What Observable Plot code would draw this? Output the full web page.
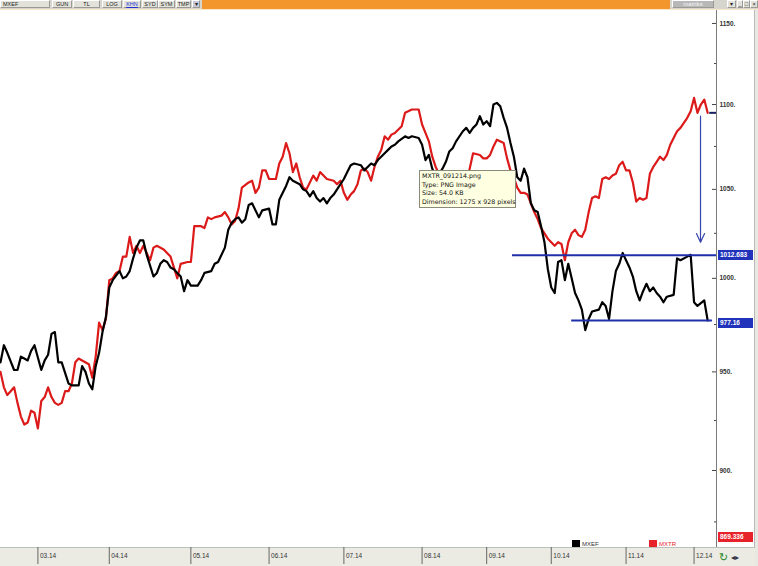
<!DOCTYPE html>
<html><head><meta charset="utf-8">
<script src="https://cdn.jsdelivr.net/npm/d3@7"></script>
<script src="https://cdn.jsdelivr.net/npm/@observablehq/plot@0.6"></script>
<style>
body{margin:0;background:#fff;}
#wrap{position:relative;width:758px;height:566px;overflow:hidden;background:#fff;font-family:"Liberation Sans",Arial,sans-serif;}
.abs{position:absolute;}
.btn{position:absolute;top:0;height:8px;background:#e2e2da;border:1px solid #9a9a94;border-top-color:#fff;border-left-color:#fff;box-sizing:border-box;font-size:5.5px;line-height:7px;color:#222;text-align:center;white-space:nowrap;}
.lbl{position:absolute;left:718px;width:35px;height:10px;font-size:6.5px;line-height:10px;color:#fff;padding-left:2px;box-sizing:border-box;font-weight:bold;}
#tip{position:absolute;background:#ffffe1;border:1px solid #8a8a7a;font-size:6.3px;line-height:8.6px;color:#111;padding:1px 2px;box-sizing:border-box;white-space:nowrap;font-family:"DejaVu Sans",sans-serif;}
.leg{position:absolute;font-size:6px;line-height:8px;}
</style></head><body><div id="wrap"></div>
<script>
// ---- data ----
const mxefDay = [0,1,2,4,5,6,7,8,9,10,12,13,14,15,16,17,18,20,21,23,24,25,26,27,28,29,30,31,32,33,35,36,37,38,39,40,41,42,43,45,46,47,48,49,50,51,52,53,54,55,56,58,59,60,62,63,64,66,67,68,69,70,71,72,73,74,76,77,79,80,81,82,84,85,86,88,89,90,91,92,93,94,95,96,97,98,99,101,102,103,104,106,107,108,109,110,111,113,114,115,116,117,119,120,121,123,124,125,126,127,128,129,130,131,132,133,134,136,137,138,139,140,141,142,143,144,145,146,147,148,149,150,151,152,153,154,155,156,157,158,159,160,161,162,163,164,165,166,167,168,169,170,171,172,173,174,176,177,178,179,180,181,182,183,184,185,186,187,188,189,190,191,192,193,194,195,196,198,199,200,202,203,204,205,207,208];
const mxefValue = [955,964,960,951,951,958,957,956,961,964,951,956,959,970,971,955,955,944,943,943,953,950,944,941,953,960,971,979,995,999,1004,1000,1001,1004,1011,1017,1021,1021,1013,1001,1003,1008,1010,1009,1006,1005,1003,1001,993,999,996,996,999,1003,1004,1008,1009,1017,1027,1031,1033,1034,1031,1033,1041,1042,1034,1038,1039,1030,1030,1044,1052,1057,1055,1053,1050,1049,1046,1049,1045,1043,1045,1042,1045,1047,1050,1056,1060,1064,1065,1064,1061,1063,1065,1064,1067,1071,1073,1075,1076,1078,1081,1080,1081,1080,1076,1067,1070,1062,1057,1059,1062,1066,1072,1074,1078,1084,1086,1083,1086,1088,1093,1088,1090,1087,1100,1101,1099,1092,1086,1077,1069,1057,1055,1062,1057,1042,1038,1037,1029,1020,1005,995,992,1009,1010,999,1008,1000,992,988,983,972,978,982,983,987,985,978,993,1004,1008,1014,1010,1006,1001,993,988,993,997,993,995,992,990,987,990,991,1011,1010,1012,1013,987,985,988,977.16];

const mxtrDay = [0,1,2,3,4,5,6,7,8,9,10,11,12,13,14,15,16,17,18,19,20,21,22,23,24,26,27,28,29,30,31,32,33,34,35,36,37,38,39,40,41,42,43,44,45,46,48,49,50,51,52,53,55,56,57,58,59,60,61,62,63,65,66,67,68,69,70,71,73,74,75,76,77,78,79,81,82,83,84,85,86,87,88,89,90,92,93,94,95,96,98,99,100,101,102,103,104,105,106,107,108,109,110,111,112,113,114,115,116,118,119,121,123,124,125,126,127,128,129,130,131,133,134,136,137,138,139,141,142,143,144,145,146,148,149,150,151,152,153,154,155,156,157,158,159,160,161,162,163,164,165,166,167,168,169,170,171,172,173,174,175,176,177,178,179,180,181,182,183,184,185,186,187,188,189,190,191,192,193,194,195,196,197,198,199,200,201,202,203,204,205,206,207,208];
const mxtrValue = [950,942,938,940,942,934,927,923,924,930,929,921,935,937,942,937,934,933,934,940,940,944,955,957,956,954,947,958,976,972,978,999,1000,1003,1004,1012,1012,1023,1014,1018,1014,1018,1014,1010,1017,1018,1016,1014,1012,1006,1000,1008,1009,1009,1029,1029,1029,1028,1034,1033,1034,1035,1037,1034,1030,1032,1039,1051,1054,1055,1048,1051,1061,1061,1056,1056,1065,1069,1077,1071,1060,1065,1057,1051,1050,1058,1055,1060,1058,1056,1055,1053,1055,1048,1044,1047,1049,1053,1061,1062,1060,1055,1063,1069,1073,1081,1079,1082,1083,1087,1095,1097,1097,1088,1083,1078,1069,1063,1059,1053,1050,1047,1045,1047,1053,1062,1071,1070,1068,1068,1070,1075,1079,1077,1068,1061,1057,1051,1048,1048,1047,1042,1037,1033,1028,1025,1022,1020,1018,1020,1019,1010,1020,1025,1027,1024,1023,1027,1037,1045,1046,1045,1056,1057,1056,1058,1059,1064,1066,1061,1061,1054,1043,1045,1044,1045,1059,1063,1066,1069,1067,1070,1076,1080,1084,1086,1089,1092,1096,1104,1095,1100,1103,1095];

const monthDay = [11,32,56,79,101,124,143,162,184,204];
const monthLabel = ["03.14","04.14","05.14","06.14","07.14","08.14","09.14","10.14","11.14","12.14"];
const yMajor = [900,950,1000,1050,1100,1150];
const yMinor = [875,925,975,1025,1075,1125];

const levelValue = [1012.683, 977.16];
const levelFrom = [150.6, 168];
const levelTo = [210.6, 209.4];
const arrowDay = [205.9];
const arrowFrom = [1093];
const arrowTo = [1020];
const lastRedValue = 1095;
const redAxisLabel = 869.336;

// ---- tables ----
const dayMax = 210.6;
const mxef = mxefDay.map((d,i)=>({day:d, value:mxefValue[i]}));
const mxtr = mxtrDay.map((d,i)=>({day:d, value:mxtrValue[i]}));
const months = monthDay.map((d,i)=>({day:d, label:monthLabel[i]}));
const levels = levelValue.map((v,i)=>({value:v, from:levelFrom[i], to:levelTo[i]}));
const arrows = arrowDay.map((d,i)=>({day:d, from:arrowFrom[i], to:arrowTo[i]}));

const wrap = document.getElementById("wrap");

// bottom strip
wrap.insertAdjacentHTML("beforeend", `<div class="abs" style="left:0;top:547px;width:758px;height:19px;background:#ebebe4;border-top:1px solid #b9c2b9;box-sizing:border-box"></div>
<div class="abs" style="left:754px;top:10px;width:1px;height:537px;background:#b8b8b8"></div>
<div class="abs" style="left:755px;top:10px;width:3px;height:556px;background:#e8e8e2"></div>`);

const plot = Plot.plot({
  width: 758, height: 566,
  marginTop: 10, marginBottom: 19, marginLeft: 0, marginRight: 42,
  x: {type: "linear", domain: [0, dayMax]},
  y: {type: "log", domain: [862.8, 1158.2], axis: null},
  style: {background: "transparent", fontFamily: "Liberation Sans, Arial, sans-serif", fontSize: "6.5px", color: "#333", overflow: "visible"},
  marks: [
    Plot.ruleX([dayMax], {stroke: "#7a7a7a", strokeWidth: 1}),
    Plot.tickY(yMajor, {y: d => d, insetLeft: 712, stroke: "#444"}),
    Plot.tickY(yMinor, {y: d => d, insetLeft: 714, stroke: "#444"}),
    Plot.text(yMajor, {y: d => d, text: d => d + ".", frameAnchor: "right", dx: 3, textAnchor: "start", fill: "#333", fontWeight: "bold", fontSize: 6.5}),
    Plot.axisX({anchor: "bottom", ticks: monthDay, tickSize: 17, tickFormat: () => "", label: null, stroke: "#666"}),
    Plot.text(months, {x: "day", text: "label", frameAnchor: "bottom", dy: 10, dx: 2, textAnchor: "start", fill: "#333", fontSize: 6.5}),
    Plot.line(mxtr, {x: "day", y: "value", stroke: "#dc1a1a", strokeWidth: 2.2}),
    Plot.line(mxef, {x: "day", y: "value", stroke: "#000", strokeWidth: 2.2}),
    Plot.ruleY(levels, {y: "value", x1: "from", x2: "to", stroke: "#1f2fa8", strokeWidth: 2}),
    Plot.arrow(arrows, {x: "day", y1: "from", y2: "to", stroke: "#3444aa", strokeWidth: 1.2, headLength: 12, headAngle: 50}),
    Plot.ruleY([lastRedValue], {y: d => d, x1: dayMax - 2, x2: dayMax, stroke: "#1a2060", strokeWidth: 2})
  ]
});
plot.style.position = "absolute";
plot.style.left = "0px";
plot.style.top = "0px";
wrap.appendChild(plot);

const ys = plot.scale("y");

// value labels on the axis
function addLabel(v, bg, top) {
  const d = document.createElement("div");
  d.className = "lbl";
  d.style.background = bg;
  d.style.top = top + "px";
  d.textContent = String(v);
  wrap.appendChild(d);
}
addLabel(levelValue[0], "#2233bb", ys.apply(levelValue[0]) - 5);
addLabel(levelValue[1], "#2233bb", ys.apply(levelValue[1]) - 2);
addLabel(redAxisLabel, "#e8222a", Math.min(ys.apply(redAxisLabel), 532));

// toolbar
wrap.insertAdjacentHTML("beforeend", `
<div class="abs" style="left:0;top:0;width:758px;height:9px;background:#d6d6ce"></div>
<div class="btn" style="left:0;width:50px;text-align:left;padding-left:2px">MXEF</div>
<div class="btn" style="left:52px;width:20px">GUN</div>
<div class="btn" style="left:73px;width:27px">TL</div>
<div class="btn" style="left:102px;width:20px">LOG</div>
<div class="btn" style="left:123px;width:18px;color:#2030d0;text-decoration:underline">KHN</div>
<div class="btn" style="left:142px;width:16px">SYD</div>
<div class="btn" style="left:158px;width:17px">SYM</div>
<div class="btn" style="left:176px;width:15px">TMP</div>
<div class="btn" style="left:192px;width:8px;background:#c8c8d8">▾</div>
<div class="abs" style="left:202px;top:0;width:468px;height:9px;background:#f3962c"></div>
<div class="abs" style="left:0;top:9px;width:758px;height:1px;background:#fbe6cc"></div>
<div class="btn" style="left:672px;width:42px;background:#b8b8b8;color:#f4f4f4;font-size:6px">matriks</div>
<div class="btn" style="left:716px;width:6px;background:#d6d6ce;border:none"></div>
<div class="btn" style="left:727px;width:9px">▾</div>
<div class="btn" style="left:737px;width:6px">_</div>
<div class="btn" style="left:743px;width:7px">□</div>
<div class="btn" style="left:750px;width:8px">×</div>
`);

// legend
wrap.insertAdjacentHTML("beforeend", `
<div class="abs" style="left:572px;top:540px;width:8px;height:7px;background:#000"></div>
<div class="leg" style="left:582px;top:540px;color:#333">MXEF</div>
<div class="abs" style="left:649px;top:540px;width:8px;height:7px;background:#e8222a"></div>
<div class="leg" style="left:659px;top:540px;color:#e8222a">MXTR</div>
<div class="abs" style="left:719px;top:552px;font-size:11px;line-height:12px;color:#2a8a2a;font-family:'DejaVu Sans'">↻</div>
<div class="abs" style="left:731px;top:553px;font-size:8px;line-height:10px;color:#334;font-family:'DejaVu Sans'">◂▸</div>
`);

// tooltip
wrap.insertAdjacentHTML("beforeend", `<div id="tip" style="left:419px;top:170px;width:97px;height:38px">MXTR_091214.png<br>Type: PNG Image<br>Size: 54.0 KB<br>Dimension: 1275 x 928 pixels</div>`);
</script>
</body></html>
